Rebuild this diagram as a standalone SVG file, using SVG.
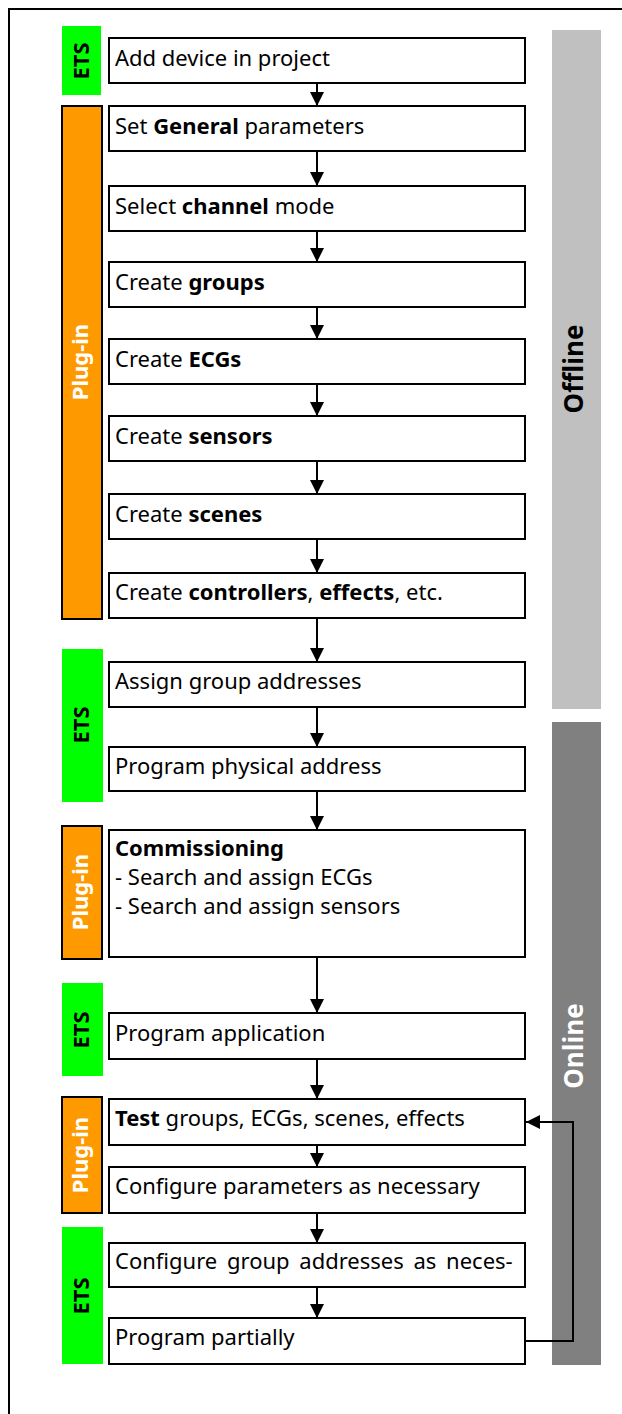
<svg xmlns="http://www.w3.org/2000/svg" width="622" height="1414" viewBox="0 0 622 1414">
<defs>
<style>
.box{fill:#fff;stroke:#000;stroke-width:2}
.t{font-family:"Noto Sans","Open Sans",sans-serif;font-size:22px;fill:#000}
.b{font-weight:bold}
.ets{fill:#00ff00}
.plug{fill:#ff9900;stroke:#000;stroke-width:2}
.lbl{font-family:"Noto Sans","Open Sans",sans-serif;font-size:22px;font-weight:bold;text-anchor:middle}
.side{font-family:"Noto Sans","Open Sans",sans-serif;font-size:26px;font-weight:bold;text-anchor:middle}
.c{fill:none;stroke:#000;stroke-width:2}
</style>
<marker id="ah" markerUnits="userSpaceOnUse" markerWidth="14" markerHeight="14" refX="14" refY="7" orient="auto">
<path d="M0,0 L14,7 L0,14 z" fill="#000"/>
</marker>
</defs>
<rect width="622" height="1414" fill="#fff"/>
<path d="M9,1414 V9 H622" fill="none" stroke="#000" stroke-width="2"/>

<g id="offline"><rect x="552" y="30" width="49" height="679" fill="#c0c0c0"/>
<text class="side" transform="translate(583,369) rotate(-90)">Offline</text></g>
<g id="online"><rect x="552" y="722" width="49" height="643" fill="#808080"/>
<text class="side" fill="#fff" transform="translate(583,1046) rotate(-90)">Online</text></g>

<g id="ets1"><rect class="ets" x="62" y="26" width="39" height="69"/><text class="lbl" transform="translate(89,61) rotate(-90)">ETS</text></g>
<g id="plugin1"><rect class="plug" x="62" y="106" width="40" height="513"/><text class="lbl" fill="#fff" transform="translate(88,362) rotate(-90)">Plug-in</text></g>
<g id="ets2"><rect class="ets" x="62" y="649" width="41" height="153"/><text class="lbl" transform="translate(89,725) rotate(-90)">ETS</text></g>
<g id="plugin2"><rect class="plug" x="62" y="826" width="40" height="133"/><text class="lbl" fill="#fff" transform="translate(88,892) rotate(-90)">Plug-in</text></g>
<g id="ets3"><rect class="ets" x="62" y="983" width="41" height="93"/><text class="lbl" transform="translate(89,1030) rotate(-90)">ETS</text></g>
<g id="plugin3"><rect class="plug" x="62" y="1097" width="40" height="116"/><text class="lbl" fill="#fff" transform="translate(88,1155) rotate(-90)">Plug-in</text></g>
<g id="ets4"><rect class="ets" x="62" y="1227" width="41" height="137"/><text class="lbl" transform="translate(89,1296) rotate(-90)">ETS</text></g>

<g id="n1"><rect class="box" x="109" y="38" width="416" height="45"/><text class="t" x="115" y="66">Add device in project</text></g>
<g id="n2"><rect class="box" x="109" y="106" width="416" height="45"/><text class="t" x="115" y="134">Set <tspan class="b">General</tspan> parameters</text></g>
<g id="n3"><rect class="box" x="109" y="186" width="416" height="45"/><text class="t" x="115" y="214">Select <tspan class="b">channel</tspan> mode</text></g>
<g id="n4"><rect class="box" x="109" y="262" width="416" height="45"/><text class="t" x="115" y="290">Create <tspan class="b">groups</tspan></text></g>
<g id="n5"><rect class="box" x="109" y="339" width="416" height="45"/><text class="t" x="115" y="367">Create <tspan class="b">ECGs</tspan></text></g>
<g id="n6"><rect class="box" x="109" y="416" width="416" height="45"/><text class="t" x="115" y="444">Create <tspan class="b">sensors</tspan></text></g>
<g id="n7"><rect class="box" x="109" y="494" width="416" height="45"/><text class="t" x="115" y="522">Create <tspan class="b">scenes</tspan></text></g>
<g id="n8"><rect class="box" x="109" y="573" width="416" height="45"/><text class="t" x="115" y="600">Create <tspan class="b">controllers</tspan>, <tspan class="b">effects</tspan>, etc.</text></g>
<g id="n9"><rect class="box" x="109" y="662" width="416" height="45"/><text class="t" x="115" y="689">Assign group addresses</text></g>
<g id="n10"><rect class="box" x="109" y="747" width="416" height="44"/><text class="t" x="115" y="774">Program physical address</text></g>
<g id="n11"><rect class="box" x="109" y="830" width="416" height="127"/><text class="t" x="115" y="856"><tspan class="b">Commissioning</tspan></text><text class="t" x="115" y="885">- Search and assign ECGs</text><text class="t" x="115" y="914">- Search and assign sensors</text></g>
<g id="n12"><rect class="box" x="109" y="1013" width="416" height="46"/><text class="t" x="115" y="1041">Program application</text></g>
<g id="n13"><rect class="box" x="109" y="1099" width="416" height="46"/><text class="t" x="115" y="1126"><tspan class="b">Test</tspan> groups, ECGs, scenes, effects</text></g>
<g id="n14"><rect class="box" x="109" y="1167" width="416" height="46"/><text class="t" x="115" y="1194">Configure parameters as necessary</text></g>
<g id="n15"><rect class="box" x="109" y="1243" width="416" height="44"/><text class="t" x="115" y="1269" word-spacing="4">Configure group addresses as neces-</text></g>
<g id="n16"><rect class="box" x="109" y="1318" width="416" height="46"/><text class="t" x="115" y="1345">Program partially</text></g>

<g id="connectors">
<line class="c" x1="317" y1="83" x2="317" y2="106" marker-end="url(#ah)"/>
<line class="c" x1="317" y1="151" x2="317" y2="186" marker-end="url(#ah)"/>
<line class="c" x1="317" y1="231" x2="317" y2="262" marker-end="url(#ah)"/>
<line class="c" x1="317" y1="307" x2="317" y2="339" marker-end="url(#ah)"/>
<line class="c" x1="317" y1="384" x2="317" y2="416" marker-end="url(#ah)"/>
<line class="c" x1="317" y1="461" x2="317" y2="494" marker-end="url(#ah)"/>
<line class="c" x1="317" y1="539" x2="317" y2="573" marker-end="url(#ah)"/>
<line class="c" x1="317" y1="618" x2="317" y2="662" marker-end="url(#ah)"/>
<line class="c" x1="317" y1="707" x2="317" y2="747" marker-end="url(#ah)"/>
<line class="c" x1="317" y1="791" x2="317" y2="830" marker-end="url(#ah)"/>
<line class="c" x1="317" y1="957" x2="317" y2="1013" marker-end="url(#ah)"/>
<line class="c" x1="317" y1="1059" x2="317" y2="1099" marker-end="url(#ah)"/>
<line class="c" x1="317" y1="1145" x2="317" y2="1167" marker-end="url(#ah)"/>
<line class="c" x1="317" y1="1213" x2="317" y2="1243" marker-end="url(#ah)"/>
<line class="c" x1="317" y1="1287" x2="317" y2="1318" marker-end="url(#ah)"/>
<polyline class="c" points="525,1341 573,1341 573,1122 526,1122" marker-end="url(#ah)"/>
</g>
</svg>
